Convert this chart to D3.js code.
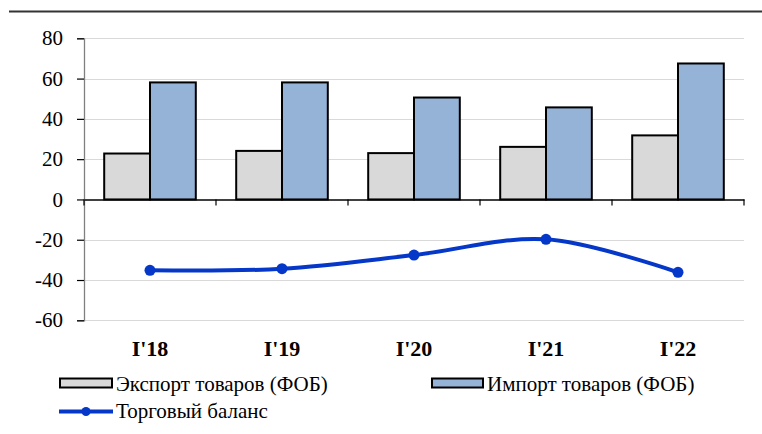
<!DOCTYPE html>
<html><head><meta charset="utf-8">
<script src="https://cdn.jsdelivr.net/npm/d3@7"></script>
</head><body style="margin:0">
<svg id="c" width="762" height="434"></svg>
<script>
const categories = ["I'18", "I'19", "I'20", "I'21", "I'22"];
const exportValues = [22.8, 24.1, 23.0, 26.1, 31.8];
const importValues = [58.1, 58.1, 50.6, 45.7, 67.5];
const balanceValues = [-35.2, -34.4, -27.6, -19.8, -36.2];
const yTicks = [80, 60, 40, 20, 0, -20, -40, -60];
const seriesNames = ["Экспорт товаров (ФОБ)", "Импорт товаров (ФОБ)", "Торговый баланс"];

const svg = d3.select("#c");
const pLeft = 84, pRight = 744, pTop = 38.3, pBottom = 320.3;
const serifFont = "Times New Roman";

const y = d3.scaleLinear().domain([-60, 80]).range([pBottom, pTop]);
const x = d3.scaleBand().domain(categories).range([pLeft, pRight]).paddingInner(0).paddingOuter(0);
const barW = 45.8;

function label(sel) {
  return sel.attr("font-family", serifFont).style("font-family", serifFont).attr("fill", "#000");
}

// top rule
svg.append("line").attr("x1", 9).attr("x2", 762).attr("y1", 11.5).attr("y2", 11.5)
  .attr("stroke", "#333").attr("stroke-width", 2);

// gridlines
svg.append("g").selectAll("line").data(yTicks.filter(d => d !== 0)).join("line")
  .attr("x1", pLeft).attr("x2", pRight)
  .attr("y1", d => Math.round(y(d)) + 0.5).attr("y2", d => Math.round(y(d)) + 0.5)
  .attr("stroke", "#d9d9d9").attr("stroke-width", 1);

// y axis (lines from d3 axis, labels drawn separately)
const yAxis = d3.axisLeft(y).tickValues(yTicks).tickSize(7).tickFormat("");
const gy = svg.append("g").attr("transform", `translate(${pLeft},0)`).call(yAxis);
gy.select(".domain").attr("stroke", "#808080").attr("stroke-width", 1.3);
gy.selectAll(".tick line").attr("stroke", "#000").attr("stroke-width", 1.2);
label(svg.append("g").selectAll("text").data(yTicks).join("text")
  .attr("x", pLeft - 21).attr("y", d => y(d)).attr("dy", "0.34em")
  .attr("text-anchor", "end").attr("font-size", 21)
  .text(d => d < 0 ? "-" + Math.abs(d) : d));

// bars
const g = svg.append("g");
g.selectAll("rect.exp").data(exportValues).join("rect").attr("class", "exp")
  .attr("x", (d, i) => x(categories[i]) + x.bandwidth() / 2 - barW)
  .attr("y", d => y(d)).attr("width", barW).attr("height", d => y(0) - y(d))
  .attr("fill", "#d9d9d9").attr("stroke", "#000").attr("stroke-width", 2);
g.selectAll("rect.imp").data(importValues).join("rect").attr("class", "imp")
  .attr("x", (d, i) => x(categories[i]) + x.bandwidth() / 2)
  .attr("y", d => y(d)).attr("width", barW).attr("height", d => y(0) - y(d))
  .attr("fill", "#95b3d7").attr("stroke", "#000").attr("stroke-width", 2);

// x axis at zero
const xAxis = d3.axisBottom(x).tickSize(0).tickFormat("");
const gx = svg.append("g").attr("transform", `translate(0,${y(0)})`).call(xAxis);
gx.select(".domain").attr("stroke", "#000").attr("stroke-width", 1.5);
const boundaries = categories.map(c => x(c) + x.bandwidth()).concat([pLeft]);
gx.selectAll("line.bt").data(boundaries).join("line").attr("class", "bt")
  .attr("x1", d => d).attr("x2", d => d).attr("y1", 0).attr("y2", 6)
  .attr("stroke", "#000").attr("stroke-width", 1.2);

// x labels
label(svg.append("g").selectAll("text").data(categories).join("text")
  .attr("x", d => x(d) + x.bandwidth() / 2).attr("y", 356)
  .attr("text-anchor", "middle").attr("font-weight", "bold")
  .attr("font-size", 22).text(d => d));

// balance line
const line = d3.line().x((d, i) => x(categories[i]) + x.bandwidth() / 2).y(d => y(d))
  .curve(d3.curveCatmullRom.alpha(0.5));
svg.append("path").datum(balanceValues).attr("d", line)
  .attr("fill", "none").attr("stroke", "#0537c8").attr("stroke-width", 4);
svg.append("g").selectAll("circle").data(balanceValues).join("circle")
  .attr("cx", (d, i) => x(categories[i]) + x.bandwidth() / 2).attr("cy", d => y(d))
  .attr("r", 5.5).attr("fill", "#0537c8");

// legend
const lg = svg.append("g");
lg.append("rect").attr("x", 60).attr("y", 378.5).attr("width", 52).attr("height", 9)
  .attr("fill", "#d9d9d9").attr("stroke", "#000").attr("stroke-width", 2);
label(lg.append("text").attr("x", 116).attr("y", 391).attr("font-size", 21).text(seriesNames[0]));
lg.append("rect").attr("x", 432).attr("y", 378.5).attr("width", 51).attr("height", 9)
  .attr("fill", "#95b3d7").attr("stroke", "#000").attr("stroke-width", 2);
label(lg.append("text").attr("x", 487).attr("y", 391).attr("font-size", 21).text(seriesNames[1]));
lg.append("line").attr("x1", 59).attr("x2", 113).attr("y1", 411.5).attr("y2", 411.5)
  .attr("stroke", "#0537c8").attr("stroke-width", 4);
lg.append("circle").attr("cx", 86).attr("cy", 411.5).attr("r", 4.5).attr("fill", "#0537c8");
label(lg.append("text").attr("x", 116).attr("y", 418).attr("font-size", 21).text(seriesNames[2]));
</script>
</body></html>
